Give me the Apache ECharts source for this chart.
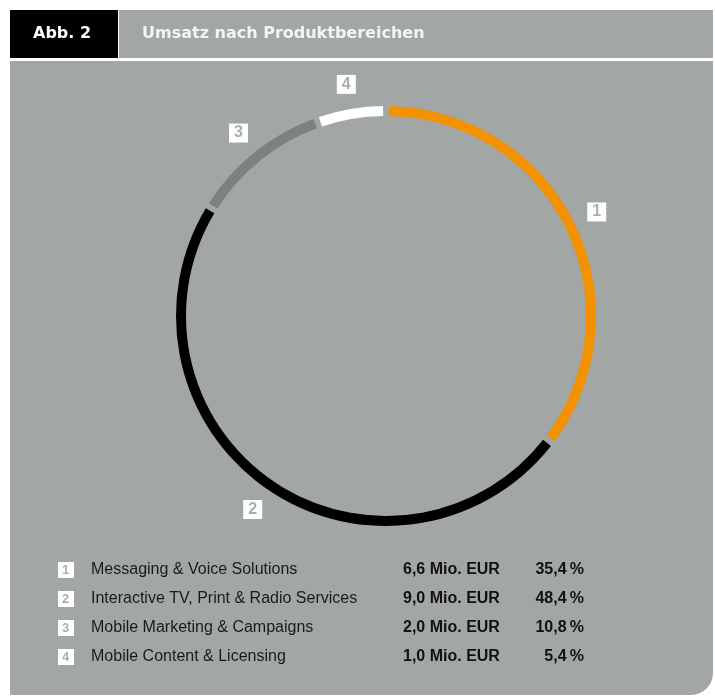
<!DOCTYPE html>
<html>
<head>
<meta charset="utf-8">
<script src="https://cdn.jsdelivr.net/npm/echarts@6/dist/echarts.min.js"></script>
<style>
  html, body { margin: 0; padding: 0; background: #fff; }
  #chart { width: 715px; height: 698px; }
</style>
</head>
<body>
<div id="chart"></div>
<script>
// Daten
var categories = ['Messaging & Voice Solutions', 'Interactive TV, Print & Radio Services', 'Mobile Marketing & Campaigns', 'Mobile Content & Licensing'];
var umsatzMio = [6.6, 9.0, 2.0, 1.0];
var anteilProzent = [35.4, 48.4, 10.8, 5.4];
var farben = ['#f39200', '#000000', '#7e8081', '#ffffff'];

var panelGrau = '#a2a7a6';
var schrift = '"Liberation Sans", Arial, sans-serif';

function deZahl (v) {
  return v.toFixed(1).replace('.', ',');
}

var chart = echarts.init(document.getElementById('chart'), null, { renderer: 'canvas' });

var pieData = categories.map(function (name, i) {
  return { name: name, value: anteilProzent[i], itemStyle: { color: farben[i] } };
});

var option = {
  animation: false,
  backgroundColor: '#fff',
  graphic: [
    // Kopfzeile
    { type: 'rect', shape: { x: 10, y: 10, width: 108, height: 48 }, style: { fill: '#000' }, z: 0 },
    { type: 'rect', shape: { x: 119, y: 10, width: 594, height: 48 }, style: { fill: panelGrau }, z: 0 },
    { type: 'text', x: 33, y: 34, style: { text: 'Abb. 2', fill: '#fff', font: 'bold 16px "DejaVu Sans", sans-serif', textVerticalAlign: 'middle' }, z: 1 },
    { type: 'text', x: 142, y: 34, style: { text: 'Umsatz nach Produktbereichen', fill: '#f4f4f4', font: 'bold 16px "DejaVu Sans", sans-serif', textVerticalAlign: 'middle' }, z: 1 },
    // Fläche
    { type: 'rect', shape: { x: 10, y: 61, width: 703, height: 634, r: [0, 0, 22, 0] }, style: { fill: panelGrau }, z: 0 }
  ],
  legend: {
    orient: 'vertical',
    left: 53,
    top: 562,
    padding: 0,
    icon: 'none',
    itemWidth: 0,
    itemHeight: 16,
    itemGap: 13,
    selectedMode: false,
    align: 'left',
    data: categories,
    formatter: function (name) {
      var i = categories.indexOf(name);
      return '{box|' + (i + 1) + '}{sp| }{name|' + name + '}{val|' + deZahl(umsatzMio[i]) + ' Mio. EUR}{pct|' + deZahl(anteilProzent[i]) + '\u2009%}';
    },
    textStyle: {
      rich: {
        // links ausgerichtet, sonst zentriert zrender die folgenden Tokens
        box: { width: 8, height: 16, lineHeight: 16, padding: [0, 4, 0, 4], align: 'left', backgroundColor: '#fff', color: '#a9aeae', fontSize: 13, fontWeight: 'bold', fontFamily: schrift },
        sp: { width: 17, align: 'left', fontSize: 16 },
        name: { width: 312, align: 'left', fontSize: 16, color: '#1a1a1a', fontFamily: schrift },
        val: { width: 120, align: 'left', fontSize: 16, fontWeight: 'bold', color: '#111', fontFamily: schrift },
        pct: { width: 61, align: 'right', fontSize: 16, fontWeight: 'bold', color: '#111', fontFamily: schrift }
      }
    }
  },
  series: [
    {
      type: 'pie',
      center: [386, 316],
      radius: [200, 210],
      startAngle: 90,
      clockwise: true,
      padAngle: 1.6,
      silent: true,
      label: { show: false },
      labelLine: { show: false },
      data: pieData
    },
    {
      // Nummern an den Segmenten
      type: 'pie',
      center: [386, 316],
      radius: [222, 242],
      startAngle: 90,
      clockwise: true,
      padAngle: 1.6,
      silent: true,
      itemStyle: { color: 'rgba(0,0,0,0)' },
      labelLine: { show: false },
      label: {
        show: true,
        position: 'inside',
        rotate: 0,
        formatter: function (p) { return String(p.dataIndex + 1); },
        backgroundColor: '#fff',
        width: 19,
        height: 19,
        lineHeight: 19,
        align: 'center',
        color: '#a9aeae',
        fontSize: 16,
        fontWeight: 'bold',
        fontFamily: schrift
      },
      data: categories.map(function (name, i) {
        return { name: name, value: anteilProzent[i] };
      })
    }
  ]
};

chart.setOption(option);
</script>
</body>
</html>
